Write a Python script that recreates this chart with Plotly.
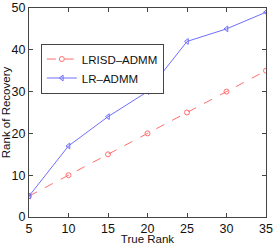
import plotly.graph_objects as go

true_rank = [5, 10, 15, 20, 25, 30, 35]
lrisd_admm = [5, 10, 15, 20, 25, 30, 35]
lr_admm = [5, 17, 24, 30, 42, 45, 49]

FONT = "Liberation Sans, Arial, sans-serif"

fig = go.Figure()
fig.add_trace(go.Scatter(
    x=true_rank, y=lrisd_admm, name="LRISD\u2013ADMM", mode="lines+markers",
    line=dict(color="rgb(255,110,110)", width=1, dash="dash"),
    marker=dict(symbol="circle-open", size=5, color="rgb(255,110,110)", line=dict(width=1)),
))
fig.add_trace(go.Scatter(
    x=true_rank, y=lr_admm, name="LR\u2013ADMM", mode="lines+markers",
    line=dict(color="rgb(110,110,255)", width=1),
    marker=dict(symbol="triangle-left-open", size=5, color="rgb(110,110,255)", line=dict(width=1)),
))

axis_common = dict(
    showgrid=False, zeroline=False, showline=True, linecolor="#444", linewidth=1,
    mirror="ticks", ticks="inside", ticklen=4, tickcolor="#444", automargin=False,
    tickfont=dict(family=FONT, size=12.5, color="#111"),
)
fig.update_xaxes(range=[5, 35], tickvals=[5, 10, 15, 20, 25, 30, 35],
                 title=dict(text="True Rank", standoff=0,
                            font=dict(family=FONT, size=11.5, color="#111")),
                 **axis_common)
fig.update_yaxes(range=[0, 50], tickvals=[0, 10, 20, 30, 40, 50],
                 title=dict(text="Rank of Recovery", standoff=4,
                            font=dict(family=FONT, size=11.5, color="#111")),
                 **axis_common)

fig.update_layout(
    width=274, height=245,
    margin=dict(l=29, r=8, t=8, b=28, autoexpand=False),
    paper_bgcolor="white", plot_bgcolor="white",
    showlegend=True,
    hovermode=False,
    legend=dict(x=0.05, y=0.83, xanchor="left", yanchor="top",
                bordercolor="#444", borderwidth=1, bgcolor="white",
                font=dict(family=FONT, size=11.5, color="#111"),
                tracegroupgap=0, itemwidth=30),
)

fig.write_html("out.html", config={"displayModeBar": False, "staticPlot": True},
               post_script="document.body.style.margin='0';document.body.style.overflow='hidden';")
